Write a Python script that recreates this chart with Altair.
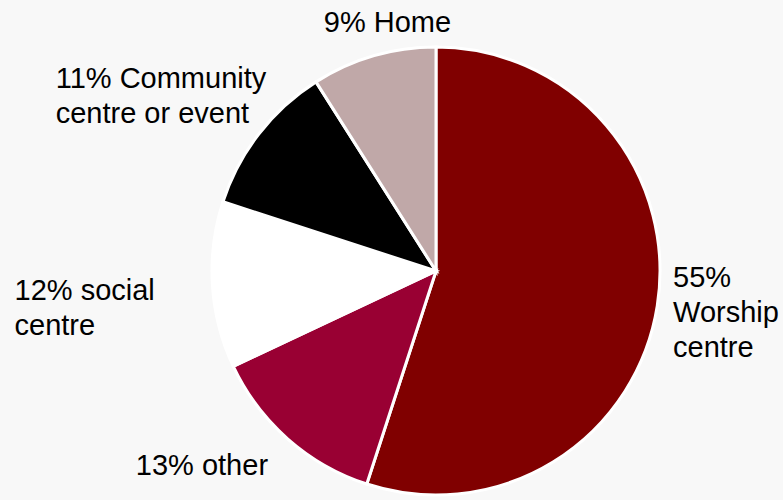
import altair as alt
import pandas as pd

categories = ["Worship centre", "other", "social centre", "Community centre or event", "Home"]
shares = [55, 13, 12, 11, 9]
label_lines = [["55%", "Worship", "centre"], ["13% other"], ["12% social", "centre"],
               ["11% Community", "centre or event"], ["9% Home"]]
colors = ["#800000", "#990033", "#FFFFFF", "#000000", "#C0A8A8"]

df = pd.DataFrame({
    "category": categories,
    "share": shares,
    "rank": list(range(len(categories))),
    "label": label_lines,
})

FONT = "Liberation Sans"
FS = 29

arcs = alt.Chart(df).mark_arc(outerRadius=224, stroke="white", strokeWidth=3).encode(
    theta=alt.Theta("share:Q", stack=True),
    color=alt.Color("category:N", scale=alt.Scale(domain=categories, range=colors), legend=None),
    order=alt.Order("rank:Q"),
)

# label layout: (radius, dx, dy, align) per category
layout = {
    "Worship centre": (241, -1, -22, "left"),
    "other": (257, 2, 11, "right"),
    "social centre": (281, -141, 11, "left"),
    "Community centre or event": (294, -148, -3, "left"),
    "Home": (260, 24, 11, "center"),
}

base = alt.Chart(df).transform_window(
    cum="sum(share)", sort=[alt.SortField("rank")]
).transform_calculate(
    mid="datum.cum - datum.share / 2"
)

layers = [arcs]
for cat in categories:
    r, dx, dy, al = layout[cat]
    layers.append(
        base.transform_filter(alt.datum.category == cat).mark_text(
            radius=r, dx=dx, dy=dy, align=al, baseline="alphabetic",
            font=FONT, fontSize=FS, lineHeight=35, color="black",
        ).encode(
            theta=alt.Theta("mid:Q", scale=alt.Scale(domain=[0, 100])),
            text="label",
        )
    )

chart = alt.layer(*layers).resolve_scale(theta="independent").properties(
    width=694, height=458,
    padding={"left": 89, "top": 42, "right": 0, "bottom": 0},
    autosize=alt.AutoSizeParams(type="none"),
    background="#F8F8F8",
).configure_view(stroke=None)

chart.save("out.html", embed_options={"renderer": "svg", "actions": False})
